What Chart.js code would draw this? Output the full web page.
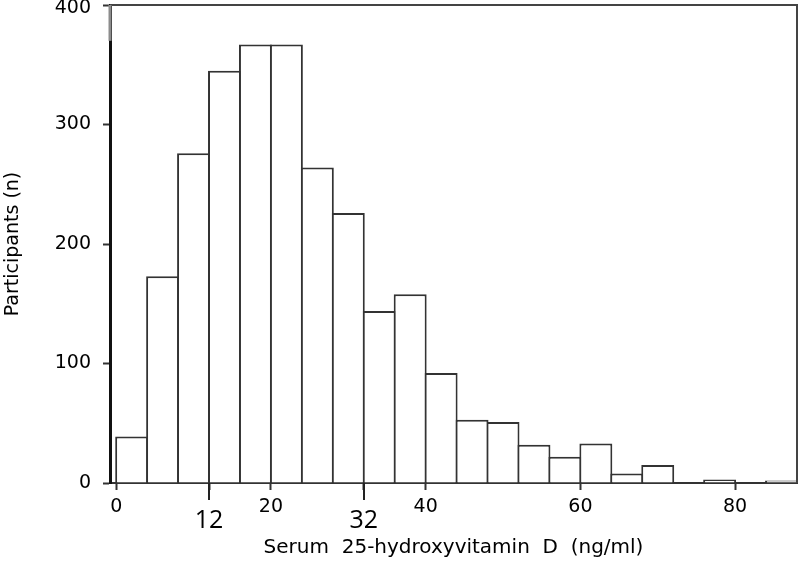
<!DOCTYPE html>
<html>
<head>
<meta charset="utf-8">
<script src="https://cdn.jsdelivr.net/npm/chart.js@4/dist/chart.umd.min.js"></script>
<style>
html,body{margin:0;padding:0;background:#fff;}
#wrap{width:800px;height:561px;}
</style>
</head>
<body>
<div id="wrap"><canvas id="c" width="800" height="561"></canvas></div>
<script>
// ---- data ----
const binStarts = [0, 4, 8, 12, 16, 20, 24, 28, 32, 36, 40, 44, 48, 52, 56, 60, 64, 68, 72, 76, 80, 84];
const binWidth = 4;
const counts = [39, 173, 276, 345, 367, 367, 264, 226, 144, 158, 92, 53, 51, 32, 22, 33, 8, 15, 0, 3, 0, 2];
const xTickValues = [0, 12, 20, 32, 40, 60, 80];
const highlightedTicks = [12, 32];
const yTickValues = [0, 100, 200, 300, 400];
const xTitle = 'Serum  25-hydroxyvitamin  D  (ng/ml)';
const yTitle = 'Participants (n)';

const points = binStarts.map((s, i) => ({ x: s + binWidth / 2, y: counts[i] }));
const yMax = yTickValues[yTickValues.length - 1];

const framePlugin = {
  id: 'frame',
  afterDraw(chart) {
    const { ctx, chartArea: { left, right, top, bottom }, scales: { x, y } } = chart;
    ctx.save();
    ctx.strokeStyle = '#444';
    ctx.lineWidth = 2;
    ctx.beginPath();
    ctx.moveTo(left, top);
    ctx.lineTo(right, top);
    ctx.lineTo(right, bottom);
    ctx.stroke();
    // lighter upper part of the left axis line
    ctx.strokeStyle = '#8c8c8c';
    ctx.lineWidth = 3;
    ctx.beginPath();
    ctx.moveTo(left, top);
    ctx.lineTo(left, y.getPixelForValue(370));
    ctx.stroke();
    // longer tick marks for the highlighted values
    ctx.strokeStyle = '#222';
    ctx.lineWidth = 2;
    highlightedTicks.forEach(v => {
      const px = Math.round(x.getPixelForValue(v));
      ctx.beginPath();
      ctx.moveTo(px, bottom);
      ctx.lineTo(px, bottom + 17);
      ctx.stroke();
    });
    ctx.restore();
  }
};

new Chart(document.getElementById('c'), {
  type: 'bar',
  data: {
    datasets: [{
      data: points,
      backgroundColor: '#ffffff',
      borderColor: '#333333',
      borderWidth: 2,
      borderSkipped: 'start',
      barPercentage: 1.065,
      categoryPercentage: 1
    }]
  },
  options: {
    responsive: false,
    animation: false,
    devicePixelRatio: 1,
    layout: { padding: { top: 5, right: 3, left: 0, bottom: 0 } },
    plugins: { legend: { display: false }, tooltip: { enabled: false } },
    scales: {
      x: {
        type: 'linear',
        offset: false,
        min: -0.8,
        max: 88,
        afterBuildTicks: s => { s.ticks = xTickValues.map(v => ({ value: v })); },
        afterFit: s => { s.height = 78; s.paddingLeft = 0; s.paddingRight = 0; },
        grid: { offset: false, drawOnChartArea: false, drawTicks: true, tickLength: 7, tickWidth: 2, tickColor: '#333' },
        border: { display: true, color: '#333', width: 2 },
        ticks: {
          autoSkip: false,
          maxRotation: 0,
          padding: 6,
          color: '#000',
          font: ctx => (ctx.tick && highlightedTicks.includes(ctx.tick.value))
            ? { family: 'Open Sans', size: 25, lineHeight: 0.675 }
            : { family: 'DejaVu Sans', size: 19 },
          callback: v => highlightedTicks.includes(v) ? ['', String(v)] : String(v)
        },
        title: { display: true, text: xTitle, color: '#000', font: { family: 'DejaVu Sans', size: 20 }, padding: { top: 0, bottom: 1 } }
      },
      y: {
        min: 0,
        max: yMax,
        afterBuildTicks: s => { s.ticks = yTickValues.map(v => ({ value: v })); },
        afterFit: s => { s.width = 110; s.paddingTop = 0; s.paddingBottom = 0; },
        grid: { drawOnChartArea: false, drawTicks: true, tickLength: 7, tickWidth: 2, tickColor: '#333' },
        border: { display: true, color: '#111', width: 3 },
        ticks: {
          padding: 12,
          color: '#000',
          font: ctx => (ctx.tick && ctx.tick.value === yMax)
            ? { family: 'DejaVu Sans', size: 19, lineHeight: 0.36 }
            : { family: 'DejaVu Sans', size: 19 },
          callback: v => v === yMax ? ['', String(v)] : String(v)
        },
        title: { display: true, text: yTitle, color: '#000', font: { family: 'DejaVu Sans', size: 19 }, padding: { top: 2, bottom: 0 } }
      }
    }
  },
  plugins: [framePlugin]
});
</script>
</body>
</html>
